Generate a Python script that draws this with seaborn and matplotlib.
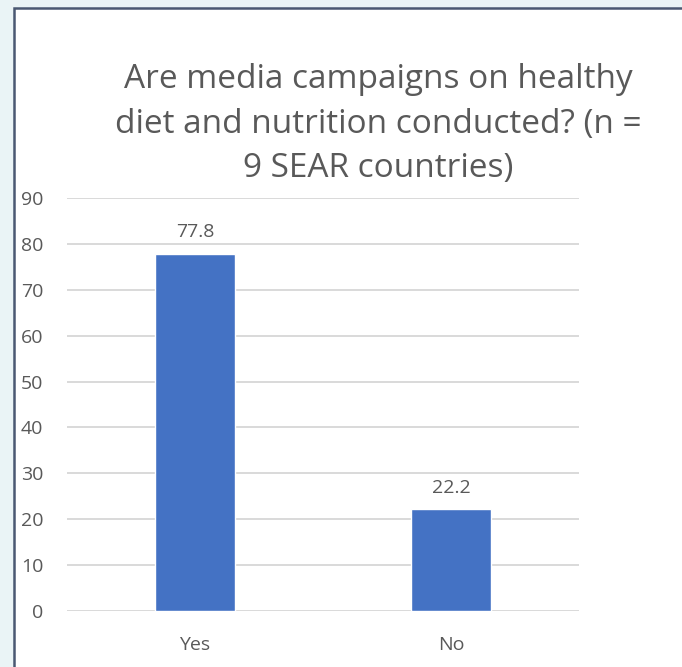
import matplotlib
matplotlib.use("Agg")
import matplotlib.pyplot as plt
import seaborn as sns
import pandas as pd
from matplotlib.patches import Rectangle

# Survey responses (percent of countries)
categories = ["Yes", "No"]
percentages = [77.8, 22.2]
y_ticks = [0, 10, 20, 30, 40, 50, 60, 70, 80, 90]
title_text = "Are media campaigns on healthy\ndiet and nutrition conducted? (n =\n9 SEAR countries)"

sns.set_theme(style="white")
plt.rcParams["font.family"] = ["Open Sans", "DejaVu Sans"]

text_grey = "#595959"
bar_blue = "#4472C4"
grid_grey = "#D9D9D9"

W, H = 682, 667
fig = plt.figure(figsize=(W / 100, H / 100), dpi=100)
fig.patch.set_facecolor("#EAF4F6")

# White chart card with dark frame (right and bottom edges run off the canvas)
card = Rectangle((14 / W, -0.1), 1.0, 1.1 - 8 / H, transform=fig.transFigure,
                 facecolor="white", edgecolor="#4A5872", linewidth=1.8,
                 zorder=-5)
fig.patches.append(card)

ax = fig.add_axes([67 / W, (H - 611) / H, 512 / W, 413 / H])
ax.set_zorder(1)
ax.set_facecolor("none")

df = pd.DataFrame({"answer": categories, "pct": percentages})
sns.barplot(data=df, x="answer", y="pct", color=bar_blue, saturation=1,
            width=0.3125, ax=ax, zorder=3)

ax.set_ylim(0, 90)
ax.set_yticks(y_ticks)
ax.set_xlim(-0.5, 1.5)
ax.yaxis.grid(True, color=grid_grey, linewidth=1.4, zorder=0)
ax.set_axisbelow(True)
for s in ax.spines.values():
    s.set_visible(False)

ax.tick_params(axis="y", length=0, pad=17, labelsize=14, labelcolor=text_grey)
ax.tick_params(axis="x", length=0, pad=18, labelsize=14, labelcolor=text_grey)
ax.set_xlabel("")
ax.set_ylabel("")

for container in ax.containers:
    ax.bar_label(container, labels=[f"{v:.1f}" for v in percentages],
                 padding=9, fontsize=14, color=text_grey)

fig.text(378 / W, 1 - 124 / H, title_text, ha="center", va="center",
         fontsize=24, color=text_grey, linespacing=1.45)

fig.savefig("out.png", dpi=100)
